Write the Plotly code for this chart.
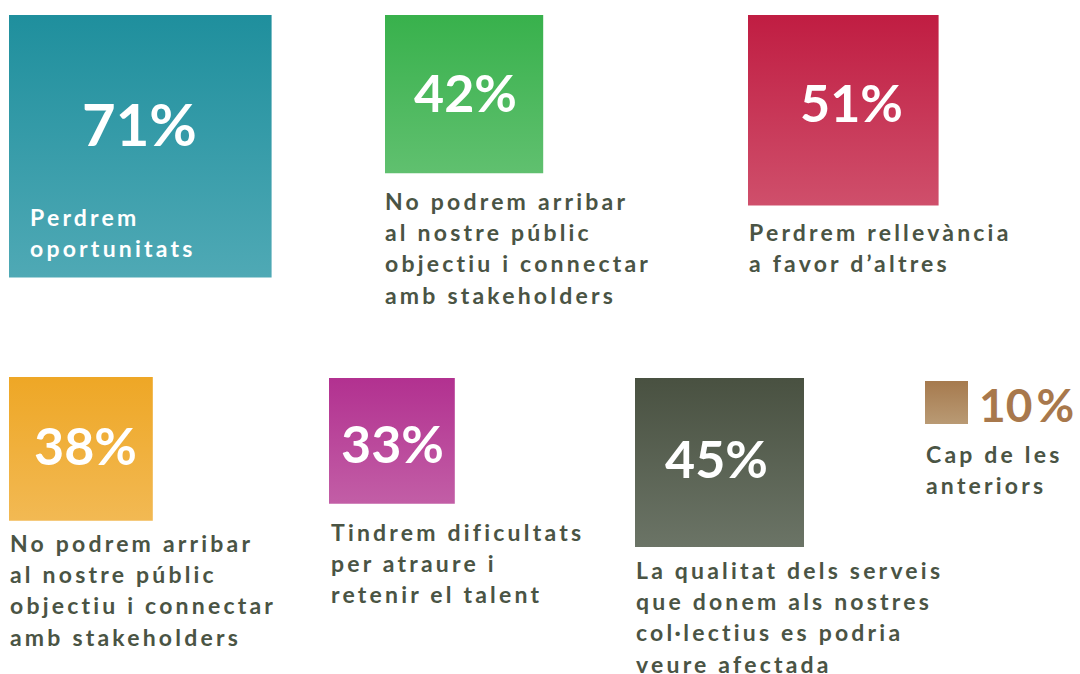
import plotly.graph_objects as go

# ---- data ----
values = [71, 42, 51, 38, 33, 45, 10]
value_labels = ["71%", "42%", "51%", "38%", "33%", "45%", "10%"]
descriptions = [
    ["Perdrem", "oportunitats"],
    ["No podrem arribar", "al nostre públic", "objectiu i connectar", "amb stakeholders"],
    ["Perdrem rellevància", "a favor d’altres"],
    ["No podrem arribar", "al nostre públic", "objectiu i connectar", "amb stakeholders"],
    ["Tindrem dificultats", "per atraure i", "retenir el talent"],
    ["La qualitat dels serveis", "que donem als nostres", "col·lectius es podria", "veure afectada"],
    ["Cap de les", "anteriors"],
]

# ---- styles / layout ----
top_colors = ["#1f8f9d", "#38b14c", "#c01d42", "#eea726", "#b23190", "#495141", "#a67a4e"]
bottom_colors = ["#4fa9b5", "#60c06f", "#cf4f6b", "#f2b953", "#c25ea6", "#6b7466", "#b99a74"]
# top-left corners of the squares (pixels)
anchors = [(9, 15), (385, 15), (748, 15), (9, 377), (329, 378), (635, 378), (925, 381)]
# size scale: side length in px as a function of the percentage
SCALE_A, SCALE_B = 3.6, 7.0
# number label: (x center, y center, font size, color)
num_pos = [(139, 123, 58, "white"), (465, 92, 52, "white"), (851, 102, 52, "white"),
           (85, 445, 52, "white"), (392, 443, 52, "white"), (716, 458, 52, "white"),
           (978, 404, 46, "#a8784c")]
# description: (x left, y of first line cap top, color)
desc_pos = [(28, 207, "white"), (383, 191, "#4a5444"), (747, 222, "#4a5444"),
            (8, 533, "#4a5444"), (329, 522, "#4a5444"), (634, 560, "#4a5444"),
            (924, 444, "#4a5444")]
FONT = "Lato"
DESC_SIZE = 23
LINE_H = 31.2
SPACING = 3.2

fig = go.Figure()

for i, v in enumerate(values):
    side = SCALE_A * v + SCALE_B
    x0, y0 = anchors[i]
    fig.add_trace(go.Scatter(
        x=[x0, x0 + side, x0 + side, x0, x0],
        y=[y0, y0, y0 + side, y0 + side, y0],
        mode="lines", line=dict(width=0), fill="toself",
        fillgradient=dict(type="vertical",
                          start=y0, stop=y0 + side,
                          colorscale=[[0, top_colors[i]], [1, bottom_colors[i]]]),
        hoverinfo="skip", showlegend=False,
    ))

annotations = []
for i, lab in enumerate(value_labels):
    cx, cy, fs, col = num_pos[i]
    is_small = i == len(values) - 1
    text = (f'{lab[:-2]}<span style="letter-spacing:4px">{lab[-2]}</span>{lab[-1]}'
            if is_small else lab)
    annotations.append(dict(
        x=cx, y=cy, xref="x", yref="y", text=text, showarrow=False,
        xanchor="left" if is_small else "center", yanchor="middle",
        font=dict(family=FONT, size=fs, color=col, weight=700),
        borderpad=0,
    ))

for i, lines in enumerate(descriptions):
    lx, ly, col = desc_pos[i]
    for j, line in enumerate(lines):
        annotations.append(dict(
            x=lx, y=ly + j * LINE_H - 6, xref="x", yref="y",
            text=f'<span style="letter-spacing:{SPACING}px">{line}</span>',
            showarrow=False, xanchor="left", yanchor="top",
            font=dict(family=FONT, size=DESC_SIZE, color=col, weight=700),
        ))

fig.update_layout(
    width=1080, height=674,
    margin=dict(l=0, r=0, t=0, b=0),
    paper_bgcolor="white", plot_bgcolor="white",
    xaxis=dict(range=[0, 1080], visible=False, fixedrange=True),
    yaxis=dict(range=[674, 0], visible=False, fixedrange=True),
    annotations=annotations,
    showlegend=False,
)

fig.write_html("out.html", config={"displayModeBar": False},
               post_script="document.body.style.margin='0';document.body.style.overflow='hidden';")
